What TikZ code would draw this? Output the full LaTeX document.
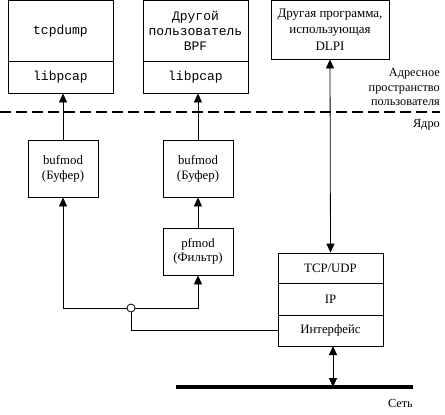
\documentclass[tikz,border=0pt]{standalone}
\usepackage{fontspec}
\setmainfont{Liberation Serif}
\newfontfamily\monof{Liberation Mono}
\usetikzlibrary{arrows.meta}
\begin{document}
\begin{tikzpicture}[x=1pt,y=-1pt,
  box/.style={draw,line width=0.8pt,inner sep=0pt,align=center,font=\fontsize{12.8}{15}\selectfont},
  mbox/.style={box,font=\fontsize{13}{15}\selectfont\monof},
  arr/.style={line width=0.8pt,-{Triangle[width=8pt,length=9pt]}},
  darr/.style={line width=0.8pt,{Triangle[width=8pt,length=9pt]}-{Triangle[width=8pt,length=9pt]}},
  lbl/.style={font=\fontsize{12.3}{14.5}\selectfont,inner sep=0pt,align=right}]
\useasboundingbox (0,0) rectangle (445,415);
% user space boxes
\node[mbox,minimum width=105pt,minimum height=60.5pt] (app1) at (60.5,30.75) {tcpdump};
\node[mbox,minimum width=105pt,minimum height=32pt] (lib1) at (60.5,77) {libpcap};
\node[mbox,minimum width=105pt,minimum height=60.5pt] (app2) at (195.5,30.75) {Другой\\пользователь\\BPF};
\node[mbox,minimum width=105pt,minimum height=32pt] (lib2) at (195.5,77) {libpcap};
\node[box,minimum width=118pt,minimum height=58.5pt,font=\fontsize{13}{16.5}\selectfont] (dlpi) at (330,29.75) {Другая программа,\\использующая\\DLPI};
% boundary
\coordinate (dl) at (0,112);
\coordinate (dr) at (440,112);
\draw[line width=2.6pt,dash pattern=on 11pt off 5pt] (dl) -- (dr);
\node[lbl,anchor=east] (us) at (440,87) {Адресное\\пространство\\пользователя};
\node[lbl,anchor=east] (kern) at (440,125) {Ядро};
% kernel boxes
\node[box,minimum width=70pt,minimum height=57pt] (buf1) at (63,168.5) {bufmod\\(Буфер)};
\node[box,minimum width=70pt,minimum height=57pt] (buf2) at (198,168.5) {bufmod\\(Буфер)};
\node[box,minimum width=70pt,minimum height=47pt,font=\fontsize{12.8}{14}\selectfont] (pf) at (198,251.5) {pfmod\\(Фильтр)};
\node[box,minimum width=105pt,minimum height=30pt] (tcp) at (330.5,268) {TCP/UDP};
\node[box,minimum width=105pt,minimum height=32pt] (ip) at (330.5,299) {IP};
\node[box,minimum width=105pt,minimum height=31pt] (iface) at (330.5,330.5) {Интерфейс};
% junction
\node[draw,circle,fill=white,line width=0.8pt,minimum size=8pt,inner sep=0pt] (j) at (131,308) {};
% network
\coordinate (netL) at (176,387);
\coordinate (netR) at (413,387);
\draw[line width=4pt] (netL) -- (netR);
\node[lbl,anchor=east] (net) at (413,403) {Сеть};
\coordinate (netA) at (333,346);
\coordinate (netB) at (333,387);
% connectors
\draw[arr] (buf1.north) -- (buf1.north |- lib1.south);
\draw[arr] (buf2.north) -- (buf2.north |- lib2.south);
\draw[arr] (pf.north) -- (buf2.south);
\draw[darr] (dlpi.south) -- (tcp.north);
\draw[darr] (netA) -- (netB);
\draw[arr] (j.west) -| (buf1.south);
\draw[arr] (j.east) -| (pf.south);
\draw[line width=0.8pt] (j.south) |- (iface.west);
\end{tikzpicture}
\end{document}
